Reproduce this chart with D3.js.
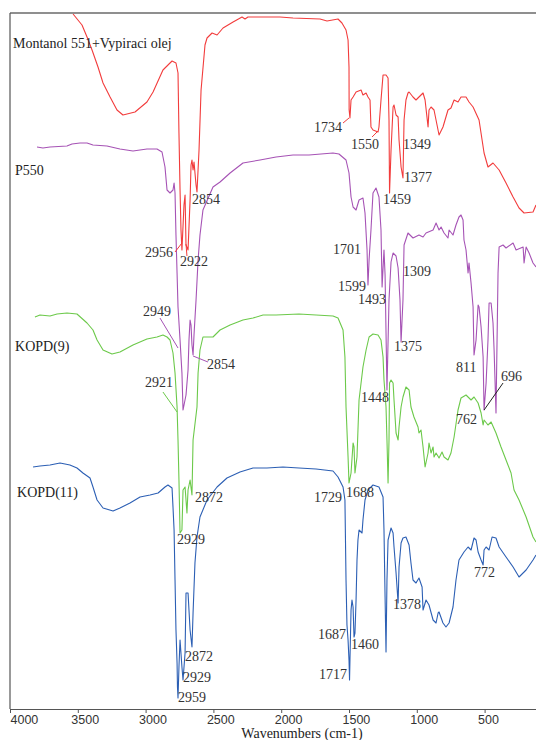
<!DOCTYPE html>
<meta charset="utf-8">
<title>FTIR spectra</title>
<script src="https://d3js.org/d3.v7.min.js"></script>
<style>
body { margin: 0; background: #fff; }
.lbl { font-family: "Liberation Serif", "Times New Roman", serif; font-size: 14px; fill: #333; }
.name { font-family: "Liberation Serif", "Times New Roman", serif; font-size: 14px; fill: #222; }
.axis text { font-family: "Liberation Sans", Arial, sans-serif; font-size: 12.5px; fill: #333; }
</style>
<div id="chart"></div>
<script>
// wavenumber (cm-1), offset transmittance (a.u.)
const montanol = [[3535,695],[3469,684],[3432,672],[3395,659],[3351,642],[3314,626],[3262,612],[3211,599],[3167,594],[3078,597],[2990,607],[2945,617],[2872,639],[2805,648],[2776,646],[2761,636],[2754,576],[2746,519],[2739,479],[2732,459],[2717,504],[2709,514],[2702,464],[2687,459],[2672,509],[2665,544],[2658,549],[2650,539],[2643,547],[2628,524],[2621,517],[2606,559],[2591,619],[2562,664],[2547,671],[2510,676],[2473,674],[2429,681],[2355,687],[2289,692],[2267,690],[2245,692],[2156,692],[2009,692],[1913,691],[1714,690],[1662,688],[1581,690],[1552,686],[1522,679],[1507,669],[1500,642],[1499,599],[1493,591],[1485,609],[1470,612],[1448,617],[1411,619],[1397,614],[1374,616],[1360,612],[1345,609],[1338,582],[1323,579],[1286,577],[1279,582],[1264,609],[1249,634],[1227,634],[1212,631],[1205,589],[1201,516],[1190,559],[1175,602],[1168,604],[1153,594],[1138,592],[1131,569],[1116,542],[1102,531],[1094,589],[1080,609],[1065,616],[1057,617],[1028,612],[1006,609],[984,612],[954,616],[939,609],[917,582],[910,599],[895,602],[873,599],[836,574],[807,582],[770,599],[748,601],[725,609],[696,607],[674,612],[637,612],[615,607],[585,602],[541,589],[504,556],[475,542],[438,546],[393,539],[342,526],[290,512],[246,501],[209,496],[143,497],[121,504]];

const p550 = [[3801,562],[3757,561],[3705,562],[3580,563],[3543,565],[3484,566],[3432,566],[3388,564],[3285,563],[3189,560],[3093,558],[2990,560],[2916,560],[2879,557],[2857,542],[2842,519],[2820,516],[2798,519],[2790,526],[2783,516],[2776,474],[2768,436],[2761,402],[2746,369],[2732,336],[2724,299],[2702,314],[2687,339],[2680,369],[2672,389],[2665,384],[2658,364],[2650,354],[2643,374],[2628,409],[2613,449],[2599,474],[2577,499],[2503,522],[2451,527],[2377,536],[2282,546],[2156,549],[2038,552],[1913,554],[1795,554],[1618,556],[1574,555],[1522,549],[1500,536],[1485,512],[1470,502],[1448,499],[1426,509],[1397,511],[1382,496],[1367,459],[1360,424],[1352,449],[1338,479],[1323,516],[1301,521],[1279,512],[1264,479],[1256,422],[1242,459],[1234,434],[1220,319],[1205,409],[1190,447],[1175,456],[1153,453],[1138,441],[1124,409],[1116,367],[1102,409],[1094,464],[1065,476],[1028,471],[984,474],[954,472],[932,476],[880,479],[858,486],[836,479],[821,482],[799,476],[770,471],[762,479],[733,474],[711,484],[689,492],[674,494],[659,489],[652,469],[637,459],[622,436],[615,446],[600,426],[585,402],[578,354],[563,369],[548,404],[541,402],[526,382],[511,352],[504,299],[489,326],[475,369],[467,406],[452,406],[438,386],[430,359],[416,296],[401,436],[393,462],[364,464],[342,461],[290,466],[268,459],[216,462],[209,446],[194,462],[172,456],[143,446],[121,442]];

const kopd9 = [[3816,392],[3779,394],[3705,393],[3653,395],[3580,396],[3506,395],[3432,386],[3388,379],[3358,369],[3314,359],[3248,355],[3189,357],[3093,364],[2990,370],[2916,372],[2872,374],[2842,372],[2820,369],[2798,356],[2783,336],[2768,302],[2761,269],[2754,229],[2746,176],[2732,179],[2724,219],[2709,222],[2695,196],[2687,219],[2672,229],[2658,214],[2650,269],[2621,302],[2613,336],[2599,359],[2577,372],[2503,372],[2451,379],[2377,384],[2282,389],[2208,391],[2134,394],[2038,394],[1869,395],[1743,394],[1618,393],[1581,391],[1544,379],[1530,352],[1522,302],[1507,252],[1500,226],[1485,236],[1470,266],[1463,262],[1456,236],[1441,252],[1426,309],[1397,342],[1374,359],[1352,372],[1323,375],[1286,374],[1264,369],[1249,352],[1242,329],[1227,302],[1220,269],[1212,226],[1205,269],[1201,326],[1190,329],[1175,326],[1168,309],[1153,276],[1138,269],[1131,282],[1116,302],[1102,312],[1080,322],[1057,319],[1043,302],[1021,292],[991,282],[984,276],[969,279],[954,262],[939,242],[917,256],[910,266],[895,256],[880,262],[873,252],[858,256],[836,251],[814,257],[799,252],[770,249],[748,256],[725,272],[696,299],[674,311],[637,314],[600,309],[578,312],[548,306],[526,296],[511,284],[504,289],[475,284],[452,287],[416,276],[379,262],[342,249],[305,236],[283,219],[246,209],[194,192],[143,172],[121,167]];

const kopd11 = [[3830,242],[3779,243],[3705,244],[3631,246],[3558,244],[3506,241],[3462,236],[3410,231],[3388,222],[3358,209],[3314,201],[3240,198],[3189,201],[3115,206],[3041,212],[2967,214],[2908,216],[2857,222],[2835,224],[2805,221],[2798,202],[2790,179],[2783,129],[2776,79],[2768,46],[2765,22],[2761,11],[2754,42],[2746,69],[2732,42],[2724,29],[2709,56],[2702,116],[2687,116],[2672,79],[2658,62],[2650,96],[2636,146],[2621,172],[2599,192],[2547,209],[2473,222],[2400,231],[2304,237],[2208,241],[2105,241],[1987,242],[1869,241],[1743,240],[1618,238],[1581,232],[1544,222],[1530,209],[1522,129],[1515,84],[1507,69],[1500,49],[1496,29],[1493,49],[1485,99],[1478,109],[1470,102],[1463,72],[1456,76],[1448,109],[1441,149],[1434,169],[1426,179],[1404,176],[1397,189],[1382,209],[1360,219],[1323,224],[1279,222],[1249,212],[1242,179],[1234,112],[1227,57],[1220,129],[1212,169],[1190,181],[1175,176],[1168,162],[1153,136],[1138,106],[1131,142],[1116,166],[1102,171],[1080,172],[1057,164],[1043,146],[1028,129],[1006,126],[984,131],[961,122],[954,99],[932,109],[910,104],[880,89],[858,86],[843,96],[836,97],[807,86],[785,82],[762,86],[733,102],[711,129],[689,149],[652,157],[622,162],[600,159],[578,171],[563,169],[548,157],[526,149],[511,144],[504,159],[489,162],[467,159],[445,172],[416,171],[393,162],[342,152],[290,142],[246,132],[194,139],[143,149],[121,154]];

const seriesNames = ["Montanol 551+Vypiraci olej", "P550", "KOPD(9)", "KOPD(11)"];
const seriesColors = ["#f23c3c", "#a653b5", "#6cc94a", "#2c5fb4"];
const nameAnchors = [[3978, 661], [3963, 534], [3963, 358], [3948, 212]];

// peak labels: text, wavenumber at text start, baseline (a.u.)
const peakLabels = [
  ["1734",1758,577],["1550",1485,560],["1349",1102,560],["1377",1094,527],["1459",1249,505],["2854",2658,505],
  ["2956",3004,452],["2922",2746,443],["1701",1618,455],["1599",1581,418],["1493",1434,405],["1309",1102,433],
  ["2949",3019,393],["2854",2547,340],["1375",1168,358],["811",711,337],["696",379,328],
  ["2921",3004,322],["1448",1411,307],["762",711,285],["2872",2636,207],["2929",2768,165],
  ["1729",1758,207],["1688",1522,212],["772",578,132],["1378",1175,100],["1687",1728,70],["1460",1485,60],
  ["1717",1721,30],["2872",2709,48],["2929",2724,27],["2959",2761,7]
];
// leader lines: series index (-1 = black), from (wn, a.u.) to (wn, a.u.)
const leaders = [
  [0,2783,457,2732,466],[0,2695,453,2702,465],[0,1544,586,1500,591],[0,1330,572,1286,578],
  [1,2894,391,2761,361],[1,2650,353,2540,347],[2,2872,317,2768,297],[-1,364,326,504,299]
];
const xTicks = [4000, 3500, 3000, 2500, 2000, 1500, 1000, 500];

const W = 536, H = 740;
const svg = d3.select("#chart").append("svg").attr("width", W).attr("height", H);

const x = d3.scaleLinear().domain([4000, 121]).range([10, 536]);
const y = d3.scaleLinear().domain([0, 696]).range([709, 13]);

// frame
svg.append("line").attr("x1", 10).attr("x2", 536).attr("y1", 13).attr("y2", 13)
  .attr("stroke", "#6a6a6a").attr("stroke-width", 1.3);
svg.append("line").attr("x1", 10).attr("x2", 10).attr("y1", 13).attr("y2", 709)
  .attr("stroke", "#555").attr("stroke-width", 1.2);

const xAxis = svg.append("g").attr("class", "axis")
  .attr("transform", "translate(0,709)")
  .call(d3.axisBottom(x).tickValues(xTicks).tickSize(4).tickSizeOuter(0).tickFormat(d3.format("d")));
xAxis.select(".domain").attr("stroke", "#555").attr("stroke-width", 1.2);
xAxis.selectAll(".tick line").attr("stroke", "#555");
xAxis.selectAll(".tick text").attr("text-anchor", "start").attr("dx", d => d === 4000 ? 0 : -7).attr("y", 6);

svg.append("text").attr("class", "lbl").attr("x", 302).attr("y", 738)
  .attr("text-anchor", "middle").style("fill", "#222").text("Wavenumbers (cm-1)");

const line = d3.line().x(d => x(d[0])).y(d => y(d[1]));
const clip = svg.append("clipPath").attr("id", "plot").append("rect")
  .attr("x", 10).attr("y", 12).attr("width", 526).attr("height", 698);

const plot = svg.append("g").attr("clip-path", "url(#plot)");
[montanol, p550, kopd9, kopd11].forEach((s, i) => {
  plot.append("path").datum(s).attr("d", line)
    .attr("fill", "none").attr("stroke", seriesColors[i]).attr("stroke-width", 1.1)
    .attr("stroke-linejoin", "round");
});

leaders.forEach(l => {
  svg.append("line")
    .attr("x1", x(l[1])).attr("y1", y(l[2])).attr("x2", x(l[3])).attr("y2", y(l[4]))
    .attr("stroke", l[0] < 0 ? "#222" : seriesColors[l[0]]).attr("stroke-width", 1);
});

svg.selectAll("text.pk").data(peakLabels).enter().append("text")
  .attr("class", "lbl pk")
  .attr("x", d => x(d[1])).attr("y", d => y(d[2]))
  .text(d => d[0]);

svg.selectAll("text.name").data(seriesNames).enter().append("text")
  .attr("class", "name")
  .attr("x", (d, i) => x(nameAnchors[i][0])).attr("y", (d, i) => y(nameAnchors[i][1]))
  .text(d => d);
</script>
